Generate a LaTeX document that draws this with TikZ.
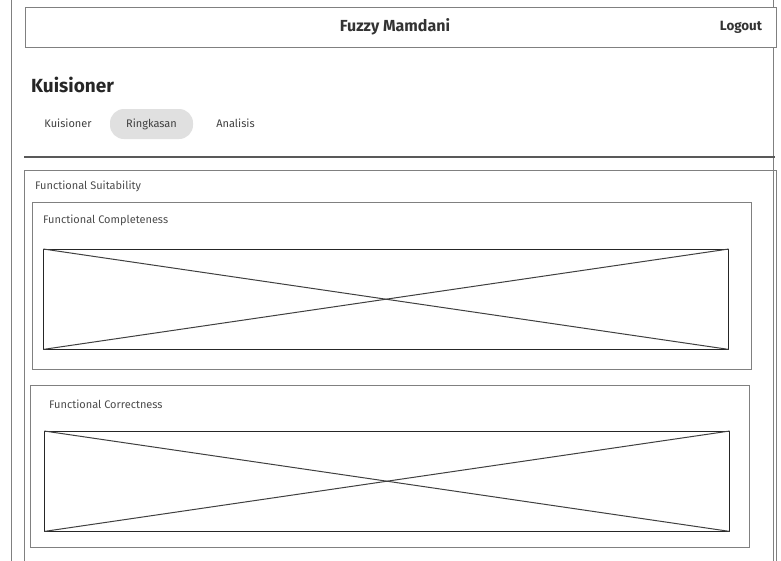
\documentclass[tikz,border=0pt]{standalone}
\usepackage{fontspec}
\setmainfont{Fira Sans}
\begin{document}
\begin{tikzpicture}[x=1pt,y=-1pt,
  frame/.style={draw=black!50,line width=0.9pt},
  ph/.style={draw=black!85,line width=0.9pt},
  diag/.style={draw=black!75,line width=1pt},
  lbl/.style={inner sep=0pt,anchor=west,text=black!70,font=\fontsize{11}{12}\selectfont},
  tab/.style={inner sep=0pt,text height=1.6ex,text depth=0.3ex,text=black!75,font=\fontsize{11}{12}\selectfont}]
\useasboundingbox (0,0) rectangle (781,560);
\fill[white] (0,0) rectangle (781,560);
% outer frame
\draw[frame] (11,-2) -- (11,562);
\draw[frame] (773,-2) -- (773,562);
% header
\node[frame,fill=white,minimum width=751pt,minimum height=40pt,inner sep=0pt,anchor=north west] (hdr) at (25,7) {};
\node[inner sep=0pt,text=black!80,font=\fontsize{16}{18}\selectfont\bfseries] (title) at (395,27) {Fuzzy Mamdani};
\node[inner sep=0pt,text=black!80,font=\fontsize{13.4}{15}\selectfont\bfseries] (logout) at (741,27) {Logout};
% page heading
\node[inner sep=0pt,anchor=west,text=black!85,font=\fontsize{19}{22}\selectfont\bfseries] (head) at (31,85) {Kuisioner};
% tabs
\node[fill=black!12,rounded corners=14pt,minimum width=83pt,minimum height=30pt,inner sep=0pt] (pill) at (151.5,124) {};
\node[tab] (t1) at (68,124) {Kuisioner};
\node[tab] (t2) at (151.5,124) {Ringkasan};
\node[tab] (t3) at (235.5,124) {Analisis};
% separator
\coordinate (s1) at (24,157);
\coordinate (s2) at (775,157);
\draw[draw=black!65,line width=1.3pt] (s1) -- (s2);
% functional suitability
\draw[frame] (24,562) -- (24,170) -- (776.5,170) -- (776.5,562);
\node[lbl] (fs) at (35,186) {Functional Suitability};
% completeness
\node[frame,minimum width=719pt,minimum height=167pt,inner sep=0pt,anchor=north west] (fcbox) at (31.7,202) {};
\node[lbl] (fcl) at (43,220) {Functional Completeness};
\node[ph,minimum width=684.5pt,minimum height=99.5pt,inner sep=0pt,anchor=north west] (fcph) at (43.3,249) {};
\draw[diag] (fcph.north west) -- (fcph.south east);
\draw[diag] (fcph.south west) -- (fcph.north east);
% correctness
\node[frame,minimum width=719pt,minimum height=162pt,inner sep=0pt,anchor=north west] (fkbox) at (30,384.5) {};
\node[lbl] (fkl) at (49,404.5) {Functional Correctness};
\node[ph,minimum width=684.5pt,minimum height=99.5pt,inner sep=0pt,anchor=north west] (fkph) at (44.3,431) {};
\draw[diag] (fkph.north west) -- (fkph.south east);
\draw[diag] (fkph.south west) -- (fkph.north east);
\end{tikzpicture}
\end{document}
